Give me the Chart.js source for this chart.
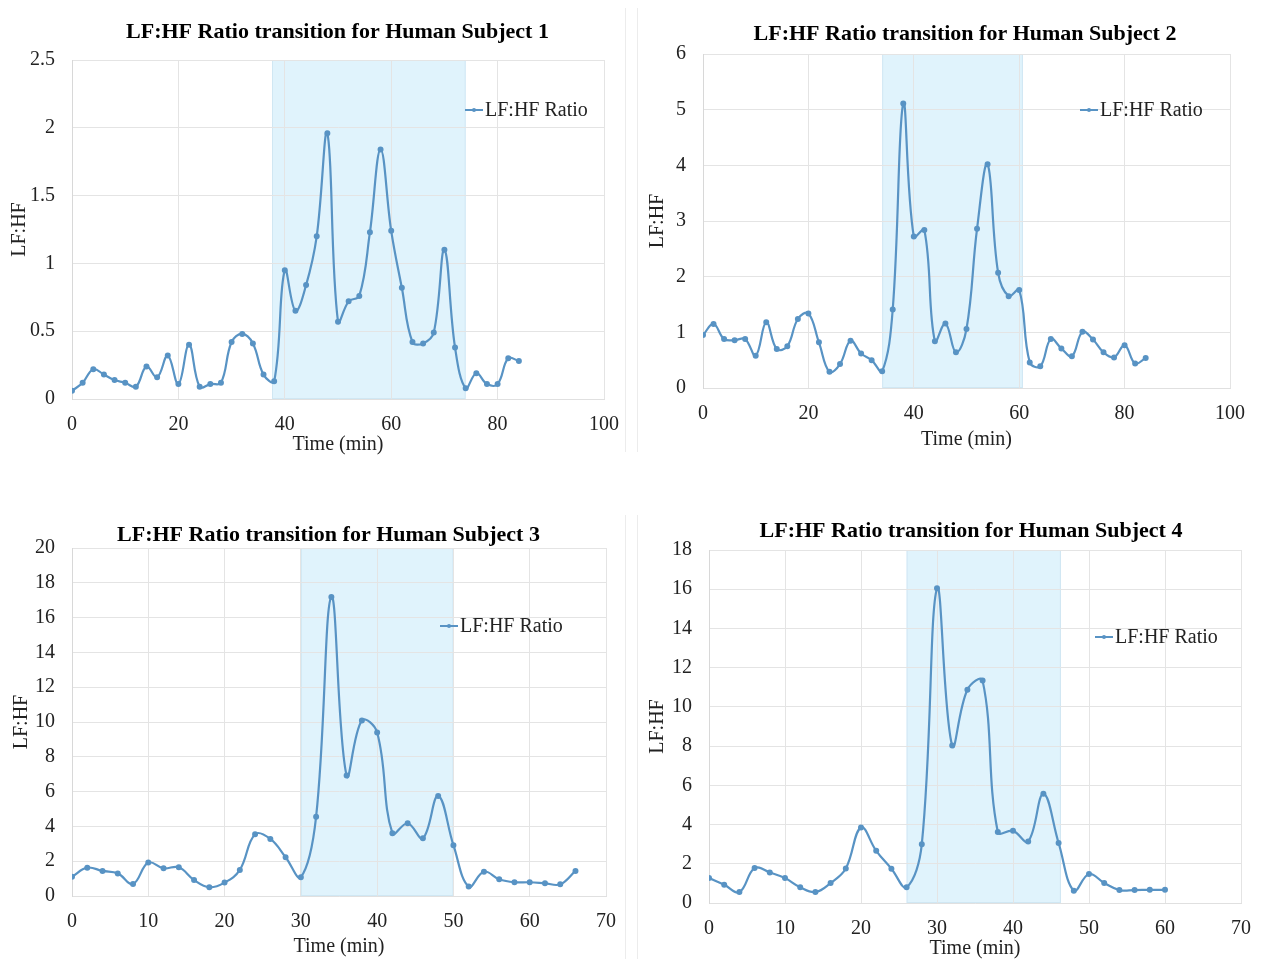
<!DOCTYPE html>
<html>
<head>
<meta charset="utf-8">
<script src="https://cdn.jsdelivr.net/npm/chart.js@4.4.1/dist/chart.umd.min.js"></script>
<style>
  body { margin: 0; background: #fff; }
  .wrap { position: relative; width: 1265px; height: 959px; overflow: hidden; }
  canvas { position: absolute; }
  .sep { position: absolute; width: 1px; background: #ececec; }
</style>
</head>
<body>
<div class="wrap">
  <div class="sep" style="left:625px;top:8px;height:444px"></div>
  <div class="sep" style="left:637px;top:8px;height:444px"></div>
  <div class="sep" style="left:625px;top:515px;height:444px"></div>
  <div class="sep" style="left:637px;top:515px;height:444px"></div>
  <canvas id="c1" style="left:0;top:0" width="640" height="460"></canvas>
  <canvas id="c2" style="left:640px;top:0" width="625" height="460"></canvas>
  <canvas id="c3" style="left:0;top:480px" width="640" height="479"></canvas>
  <canvas id="c4" style="left:640px;top:480px" width="625" height="482"></canvas>
</div>
<script>
// minutes of each reading (every 2 min)
const minutes = [0,2,4,6,8,10,12,14,16,18,20,22,24,26,28,30,32,34,36,38,40,
  42,44,46,48,50,52,54,56,58,60,62,64,66,68,70,72,74,76,78,80,82,84];

const subject1 = [0.06,0.12,0.22,0.18,0.14,0.12,0.09,0.24,0.16,0.32,0.11,0.40,
  0.09,0.11,0.12,0.42,0.48,0.41,0.18,0.13,0.95,0.65,0.84,1.20,1.96,0.57,0.72,
  0.76,1.23,1.84,1.24,0.82,0.42,0.41,0.49,1.10,0.38,0.08,0.19,0.11,0.11,0.30,0.28];
const subject2 = [0.95,1.15,0.88,0.86,0.88,0.58,1.18,0.70,0.75,1.24,1.34,0.82,
  0.29,0.43,0.85,0.62,0.50,0.30,1.41,5.11,2.72,2.84,0.84,1.16,0.64,1.06,2.86,
  4.02,2.07,1.65,1.76,0.46,0.39,0.88,0.71,0.57,1.01,0.87,0.64,0.55,0.77,0.44,0.54];
const subject3 = [1.11,1.63,1.44,1.30,0.69,1.92,1.59,1.65,0.92,0.50,0.77,1.50,
  3.55,3.28,2.23,1.08,4.56,17.19,6.92,10.09,9.40,3.61,4.18,3.32,5.75,2.92,0.54,
  1.40,0.96,0.79,0.79,0.73,0.67,1.44];
const subject4 = [1.27,0.93,0.56,1.78,1.56,1.27,0.80,0.56,1.02,1.76,3.85,2.66,
  1.75,0.80,3.00,16.05,8.03,10.87,11.34,3.62,3.68,3.14,5.57,3.06,0.63,1.48,1.02,
  0.66,0.66,0.67,0.67];

// shaded stress period (min)
const shade1 = [37.6, 74];
const shade2 = [34, 60.7];
const shade3 = [30, 50];
const shade4 = [26, 46.3];

const lineColor = '#5893c4';
const serif = "'Liberation Serif', 'Times New Roman', serif";

const decor = {
  id: 'decor',
  beforeDraw(chart, args, o) {
    const {ctx, chartArea: a, scales: {x}} = chart;
    const x0 = x.getPixelForValue(o.shade[0]);
    const x1 = x.getPixelForValue(o.shade[1]);
    ctx.save();
    ctx.fillStyle = '#e0f3fc';
    ctx.fillRect(x0, a.top, x1 - x0, a.bottom - a.top);
    ctx.strokeStyle = '#d0e7f3';
    ctx.lineWidth = 1;
    ctx.strokeRect(x0 + 0.5, a.top + 0.5, x1 - x0 - 1, a.bottom - a.top - 1);
    ctx.restore();
  },
  afterDraw(chart, args, o) {
    const ctx = chart.ctx;
    ctx.save();
    ctx.fillStyle = '#000';
    ctx.textAlign = 'center';
    ctx.textBaseline = 'middle';
    ctx.font = 'bold 22px ' + serif;
    ctx.fillText(o.title, o.titleX, o.titleY);
    // legend
    const [lx, ly] = o.legend;
    ctx.strokeStyle = lineColor;
    ctx.lineWidth = 2;
    ctx.beginPath();
    ctx.moveTo(lx, ly);
    ctx.lineTo(lx + 18, ly);
    ctx.stroke();
    ctx.fillStyle = lineColor;
    ctx.beginPath();
    ctx.arc(lx + 9, ly, 2, 0, Math.PI * 2);
    ctx.fill();
    ctx.fillStyle = '#222';
    ctx.textAlign = 'left';
    ctx.font = '20px ' + serif;
    ctx.fillText(chart.data.datasets[0].label, lx + 20, ly + 1);
    ctx.restore();
  }
};

function makeChart(id, values, s) {
  return new Chart(document.getElementById(id), {
    type: 'line',
    data: {
      datasets: [{
        label: 'LF:HF Ratio',
        data: values.map((v, i) => ({x: minutes[i], y: v})),
        borderColor: lineColor,
        backgroundColor: lineColor,
        borderWidth: 2.2,
        pointRadius: 1.9,
        pointHoverRadius: 1.9,
        tension: 0.4
      }]
    },
    plugins: [decor],
    options: {
      responsive: false,
      animation: false,
      events: [],
      layout: {padding: s.pad},
      plugins: {
        legend: {display: false},
        tooltip: {enabled: false},
        title: {display: false},
        decor: {shade: s.shade, title: s.title, titleX: s.titleX, titleY: s.titleY, legend: s.legend}
      },
      scales: {
        x: {
          type: 'linear', min: 0, max: s.xMax,
          afterFit(sc) { sc.height = s.xH; },
          grid: {color: '#e4e4e4', drawTicks: false},
          border: {color: '#e0e0e0'},
          ticks: {stepSize: s.xStep, padding: 14, color: '#222', font: {family: serif, size: 20}},
          title: {display: true, text: 'Time (min)', color: '#222',
                  font: {family: serif, size: 20}, padding: {top: 0, bottom: s.xTitlePad}}
        },
        y: {
          min: 0, max: s.yMax,
          afterFit(sc) { sc.width = s.yW; },
          grid: {color: '#e4e4e4', drawTicks: false},
          border: {color: '#d8d8d8'},
          ticks: {stepSize: s.yStep, padding: 17, color: '#222', font: {family: serif, size: 20},
                  callback: v => String(v)},
          title: {display: true, text: 'LF:HF', color: '#222',
                  font: {family: serif, size: 20}, padding: {top: s.yTitlePad, bottom: 0}}
        }
      }
    }
  });
}

makeChart('c1', subject1, {
  shade: shade1, title: 'LF:HF Ratio transition for Human Subject 1', titleX: 337.5, titleY: 32,
  legend: [465, 110], pad: {left: 0, top: 60, right: 36, bottom: 0},
  xMax: 100, xStep: 20, yMax: 2.5, yStep: 0.5, xH: 61, yW: 72, xTitlePad: 3, yTitlePad: 8
});
makeChart('c2', subject2, {
  shade: shade2, title: 'LF:HF Ratio transition for Human Subject 2', titleX: 325, titleY: 34,
  legend: [440, 110], pad: {left: 0, top: 54, right: 35, bottom: 0},
  xMax: 100, xStep: 20, yMax: 6, yStep: 1, xH: 72, yW: 63, xTitlePad: 8, yTitlePad: 6
});
makeChart('c3', subject3, {
  shade: shade3, title: 'LF:HF Ratio transition for Human Subject 3', titleX: 328.5, titleY: 55,
  legend: [440, 146], pad: {left: 0, top: 68, right: 34, bottom: 0},
  xMax: 70, xStep: 10, yMax: 20, yStep: 2, xH: 63, yW: 72, xTitlePad: 0, yTitlePad: 10
});
makeChart('c4', subject4, {
  shade: shade4, title: 'LF:HF Ratio transition for Human Subject 4', titleX: 331, titleY: 51,
  legend: [455, 157], pad: {left: 0, top: 70, right: 21, bottom: 0},
  xMax: 70, xStep: 10, yMax: 18, yStep: 2, xH: 59, yW: 69, xTitlePad: 1, yTitlePad: 6
});
</script>
</body>
</html>
